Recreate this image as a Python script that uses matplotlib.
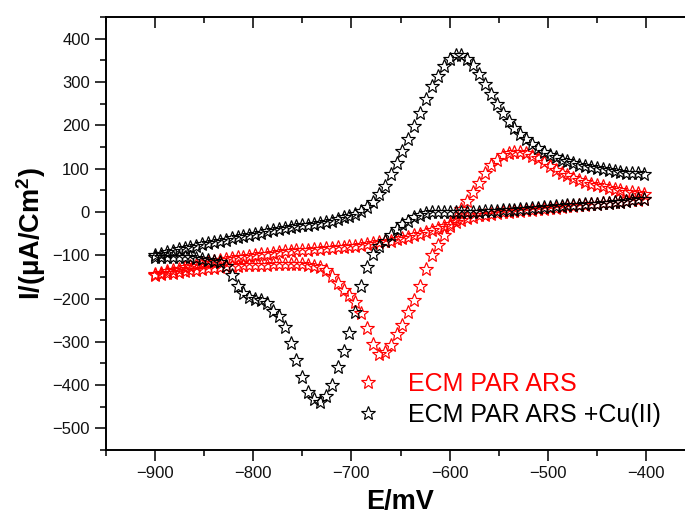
import matplotlib

matplotlib.use("Agg")
import matplotlib.pyplot as plt
import numpy as np
from matplotlib.ticker import MultipleLocator

plt.rcParams["font.family"] = ["Liberation Sans", "DejaVu Sans"]
plt.rcParams["mathtext.fontset"] = "custom"
plt.rcParams["mathtext.rm"] = "Liberation Sans"
plt.rcParams["mathtext.bf"] = "Liberation Sans:bold"

# scan potential, mV (6 mV steps, -900 ... -402)
potential = np.arange(-900, -400, 6)

# ECM PAR ARS, uA/cm2
ars_upper = [
    -143, -140, -137, -134, -131, -128, -125, -122, -119, -116,
    -113, -111, -109, -107, -105, -103, -101, -99, -97, -96,
    -94, -93, -91, -90, -89, -88, -87, -86, -85, -84,
    -83, -82, -80, -79, -78, -76, -74, -72, -70, -68,
    -66, -63, -60, -57, -53, -50, -46, -42, -37, -33,
    -28, -23, -18, -14, -11, -8, -6, -4, -2, -1,
    1, 2, 3, 4, 5, 6, 7, 9, 10, 11,
    13, 14, 15, 17, 18, 19, 20, 21, 22, 24,
    25, 27, 28, 30,
]
ars_lower = [
    -145, -143, -142, -140, -138, -136, -134, -133, -131, -130,
    -129, -127, -126, -125, -124, -123, -122, -122, -122, -122,
    -121, -121, -121, -121, -121, -121, -122, -124, -128, -134,
    -148, -163, -181, -193, -208, -234, -268, -305, -327, -324,
    -308, -283, -261, -231, -204, -171, -131, -100, -76, -53,
    -33, -13, 6, 26, 46, 66, 89, 109, 121, 131,
    136, 139, 139, 136, 130, 124, 115, 106, 98, 91,
    85, 79, 74, 69, 65, 62, 59, 56, 53, 50,
    47, 45, 43, 41,
]

# ECM PAR ARS +Cu(II), uA/cm2
cu_upper = [
    -100, -96, -93, -90, -86, -83, -80, -78, -75, -72,
    -69, -67, -64, -61, -59, -56, -53, -50, -48, -45,
    -42, -39, -37, -35, -33, -31, -29, -27, -25, -23,
    -20, -16, -12, -9, -5, 2, 12, 24, 41, 61,
    87, 112, 141, 169, 198, 228, 262, 290, 314, 338,
    354, 363, 363, 354, 339, 318, 296, 273, 249, 228,
    209, 194, 180, 168, 157, 147, 139, 132, 126, 121,
    117, 113, 109, 107, 104, 102, 99, 96, 94, 92,
    91, 90, 89, 88,
]
cu_lower = [
    -105, -105, -104, -104, -104, -104, -105, -106, -108, -110,
    -113, -116, -126, -146, -170, -187, -196, -200, -204, -211,
    -228, -240, -266, -302, -341, -382, -416, -432, -438, -425,
    -400, -358, -321, -279, -230, -172, -127, -96, -78, -66,
    -54, -40, -28, -20, -12, -7, -3, -1, 0, 0,
    0, 0, 1, 1, 1, 1, 2, 2, 3, 4,
    4, 5, 6, 7, 8, 9, 11, 12, 13, 14,
    15, 16, 17, 18, 19, 19, 20, 21, 22, 24,
    25, 27, 29, 31,
]

fig = plt.figure(figsize=(6.85, 5.19), dpi=100)
ax = fig.add_axes([0.1547, 0.1329, 0.860, 0.834])

star = dict(marker="*", linestyle="none", markersize=10, markerfacecolor="none", markeredgewidth=0.85)
ax.plot(potential, ars_upper, color="#ff0000", **star)
ax.plot(potential, ars_lower, color="#ff0000", label="ECM PAR ARS", **star)
ax.plot(potential, cu_upper, color="black", **star)
ax.plot(potential, cu_lower, color="black", label="ECM PAR ARS +Cu(II)", **star)

ax.set_xlim(-950, -350)
ax.set_ylim(-550, 450)
ax.xaxis.set_major_locator(MultipleLocator(100))
ax.xaxis.set_minor_locator(MultipleLocator(50))
ax.yaxis.set_major_locator(MultipleLocator(100))
ax.yaxis.set_minor_locator(MultipleLocator(50))
ax.tick_params(axis="both", which="both", direction="out", labelsize=12, width=1.2, colors="#111111")
ax.tick_params(which="major", length=8)
ax.tick_params(which="minor", length=4.5)
ax.tick_params(axis="x", which="both", top=True)
# top ticks point into the plot
for t in ax.xaxis.get_ticklines(minor=False)[1::2] + ax.xaxis.get_ticklines(minor=True)[1::2]:
    t.set_marker(3)
for side in ("left", "bottom", "top", "right"):
    ax.spines[side].set_linewidth(1.4)

ax.set_xlabel("E/mV", fontsize=19.5, fontweight="bold", labelpad=6)
ax.set_ylabel(r"I/(μA/Cm$^\mathbf{2}$)", fontsize=19.5, fontweight="bold", labelpad=3)

leg = ax.legend(
    loc="upper left",
    bbox_to_anchor=(0.383, 0.232),
    frameon=False,
    fontsize=18,
    handlelength=1.1,
    handletextpad=1.05,
    labelspacing=0.28,
    labelcolor=["#ff0000", "black"],
)

fig.savefig("out.png", dpi=100)
